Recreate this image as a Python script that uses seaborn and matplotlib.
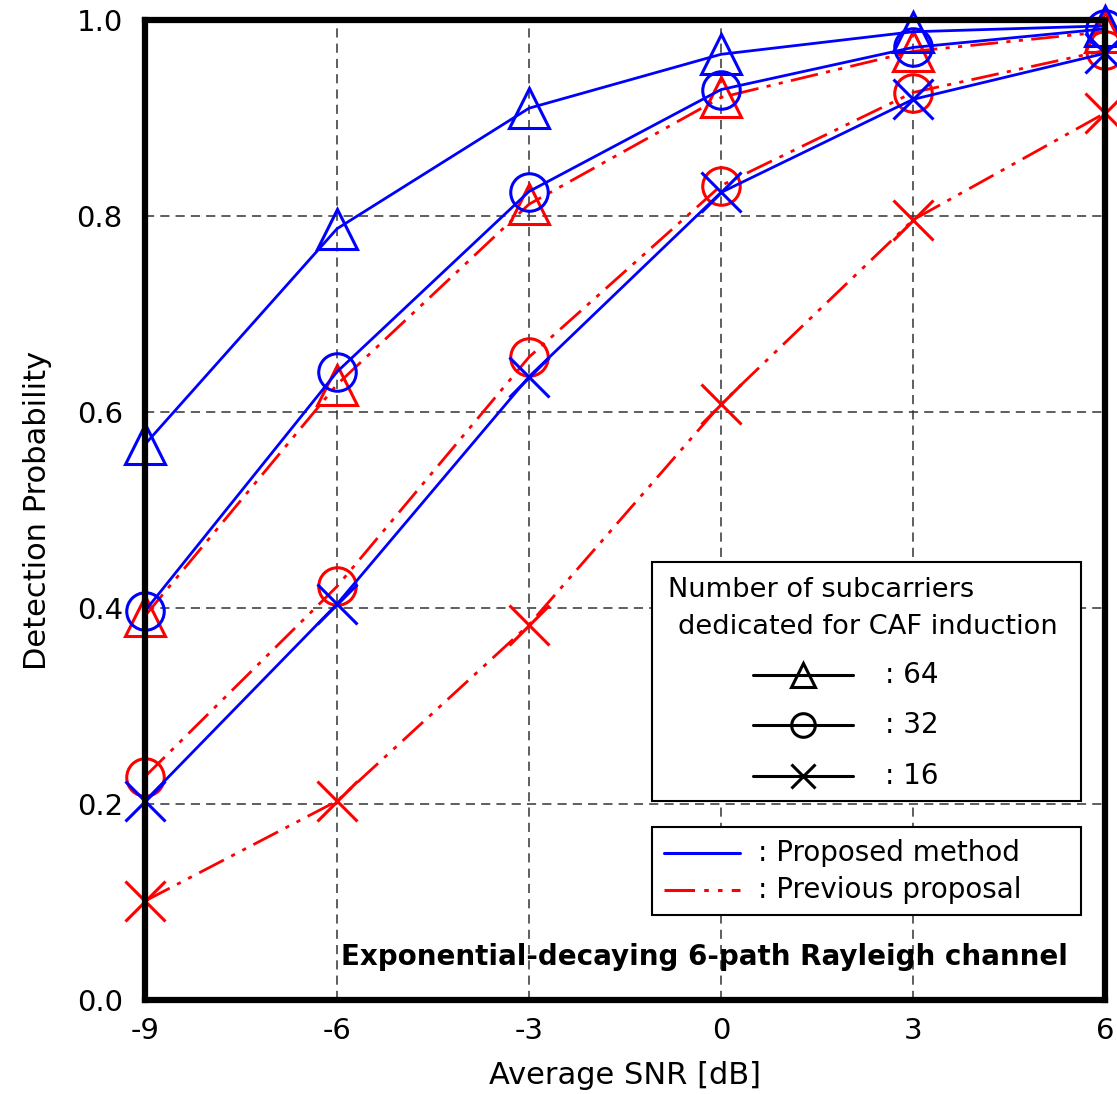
import matplotlib
matplotlib.use('Agg')
import matplotlib.pyplot as plt
from matplotlib.patches import Rectangle
import seaborn as sns

# data
snr = [-9, -6, -3, 0, 3, 6]
proposed_64 = [0.567, 0.787, 0.910, 0.965, 0.988, 0.994]
proposed_32 = [0.397, 0.641, 0.825, 0.929, 0.972, 0.991]
proposed_16 = [0.203, 0.404, 0.636, 0.824, 0.919, 0.966]
previous_64 = [0.392, 0.628, 0.812, 0.921, 0.968, 0.988]
previous_32 = [0.228, 0.422, 0.656, 0.831, 0.926, 0.969]
previous_16 = [0.101, 0.203, 0.383, 0.608, 0.796, 0.905]
subcarriers = ['64', '32', '16']
markers = ['^', 'o', 'x']
methods = ['Proposed method', 'Previous proposal']

sns.set_style("white")
plt.rcParams['font.family'] = ['DejaVu Sans']
plt.rcParams['text.color'] = 'black'
plt.rcParams['axes.labelcolor'] = 'black'
plt.rcParams['xtick.color'] = 'black'
plt.rcParams['ytick.color'] = 'black'

fig = plt.figure(figsize=(11.17, 10.94), dpi=100)
ax = fig.add_axes([145 / 1117, 1 - 1000 / 1094, 960 / 1117, 980 / 1094])

dash_dot = (0, (10, 3, 1.5, 3, 1.5, 3))
series = [
    (previous_64, 'red', dash_dot, '^'),
    (previous_32, 'red', dash_dot, 'o'),
    (previous_16, 'red', dash_dot, 'x'),
    (proposed_64, 'blue', '-', '^'),
    (proposed_32, 'blue', '-', 'o'),
    (proposed_16, 'blue', '-', 'x'),
]
msize = {'^': 29, 'o': 27, 'x': 29}
for vals, col, ls, mk in series:
    sns.lineplot(x=snr, y=vals, ax=ax, color=col, linestyle=ls, linewidth=2.0,
                 marker=mk, markersize=msize[mk], markerfacecolor='none',
                 markeredgecolor=col, markeredgewidth=2.2, clip_on=False,
                 errorbar=None, zorder=3)

ax.set_xlim(-9, 6)
ax.set_ylim(0, 1)
ax.set_xticks(snr)
ax.set_xticklabels([str(s) for s in snr])
ax.set_yticks([0, 0.2, 0.4, 0.6, 0.8, 1.0])
ax.set_yticklabels(['0.0', '0.2', '0.4', '0.6', '0.8', '1.0'])
ax.tick_params(axis='both', direction='in', length=5, width=2, labelsize=21)
ax.tick_params(axis='y', pad=16)
ax.tick_params(axis='x', pad=12)
ax.grid(True, linestyle=(0, (6, 4)), color='#333333', linewidth=1.1)
for sp in ax.spines.values():
    sp.set_linewidth(4.5)
    sp.set_color('black')
    sp.set_zorder(4)

ax.set_xlabel('Average SNR [dB]', fontsize=22, labelpad=12)
ax.set_ylabel('Detection Probability', fontsize=22, labelpad=18)

ax.text(0.961, 0.044, 'Exponential-decaying 6-path Rayleigh channel',
        transform=ax.transAxes, ha='right', va='center', fontsize=20,
        fontweight='bold', zorder=5)

# legend box: subcarriers
ax.add_patch(Rectangle((0.528, 0.203), 0.447, 0.244, transform=ax.transAxes,
                       facecolor='white', edgecolor='black', linewidth=1.5, zorder=5))
ax.text(0.545, 0.418, 'Number of subcarriers', transform=ax.transAxes,
        ha='left', va='center', fontsize=19.6, zorder=6)
ax.text(0.555, 0.381, 'dedicated for CAF induction', transform=ax.transAxes,
        ha='left', va='center', fontsize=19.6, zorder=6)
for i, (lab, mk) in enumerate(zip(subcarriers, markers)):
    yy = 0.332 - i * 0.0515
    ax.plot([0.633, 0.738], [yy, yy], transform=ax.transAxes, color='black',
            linewidth=2.2, zorder=6)
    ax.plot([0.685], [yy], transform=ax.transAxes, marker=mk, markersize=17,
            markerfacecolor='none', markeredgecolor='black', markeredgewidth=2.2,
            zorder=6)
    ax.text(0.771, yy, ': ' + lab, transform=ax.transAxes, ha='left',
            va='center', fontsize=20, zorder=6)

# legend box: methods
ax.add_patch(Rectangle((0.528, 0.0867), 0.447, 0.0898, transform=ax.transAxes,
                       facecolor='white', edgecolor='black', linewidth=1.5, zorder=5))
for i, (lab, col, ls) in enumerate(zip(methods, ['blue', 'red'], ['-', dash_dot])):
    yy = 0.150 - i * 0.038
    ax.plot([0.541, 0.620], [yy, yy], transform=ax.transAxes, color=col,
            linestyle=ls, linewidth=2.2, zorder=6)
    ax.text(0.639, yy, ': ' + lab, transform=ax.transAxes, ha='left',
            va='center', fontsize=20, zorder=6)

fig.savefig('out.png', dpi=100)
